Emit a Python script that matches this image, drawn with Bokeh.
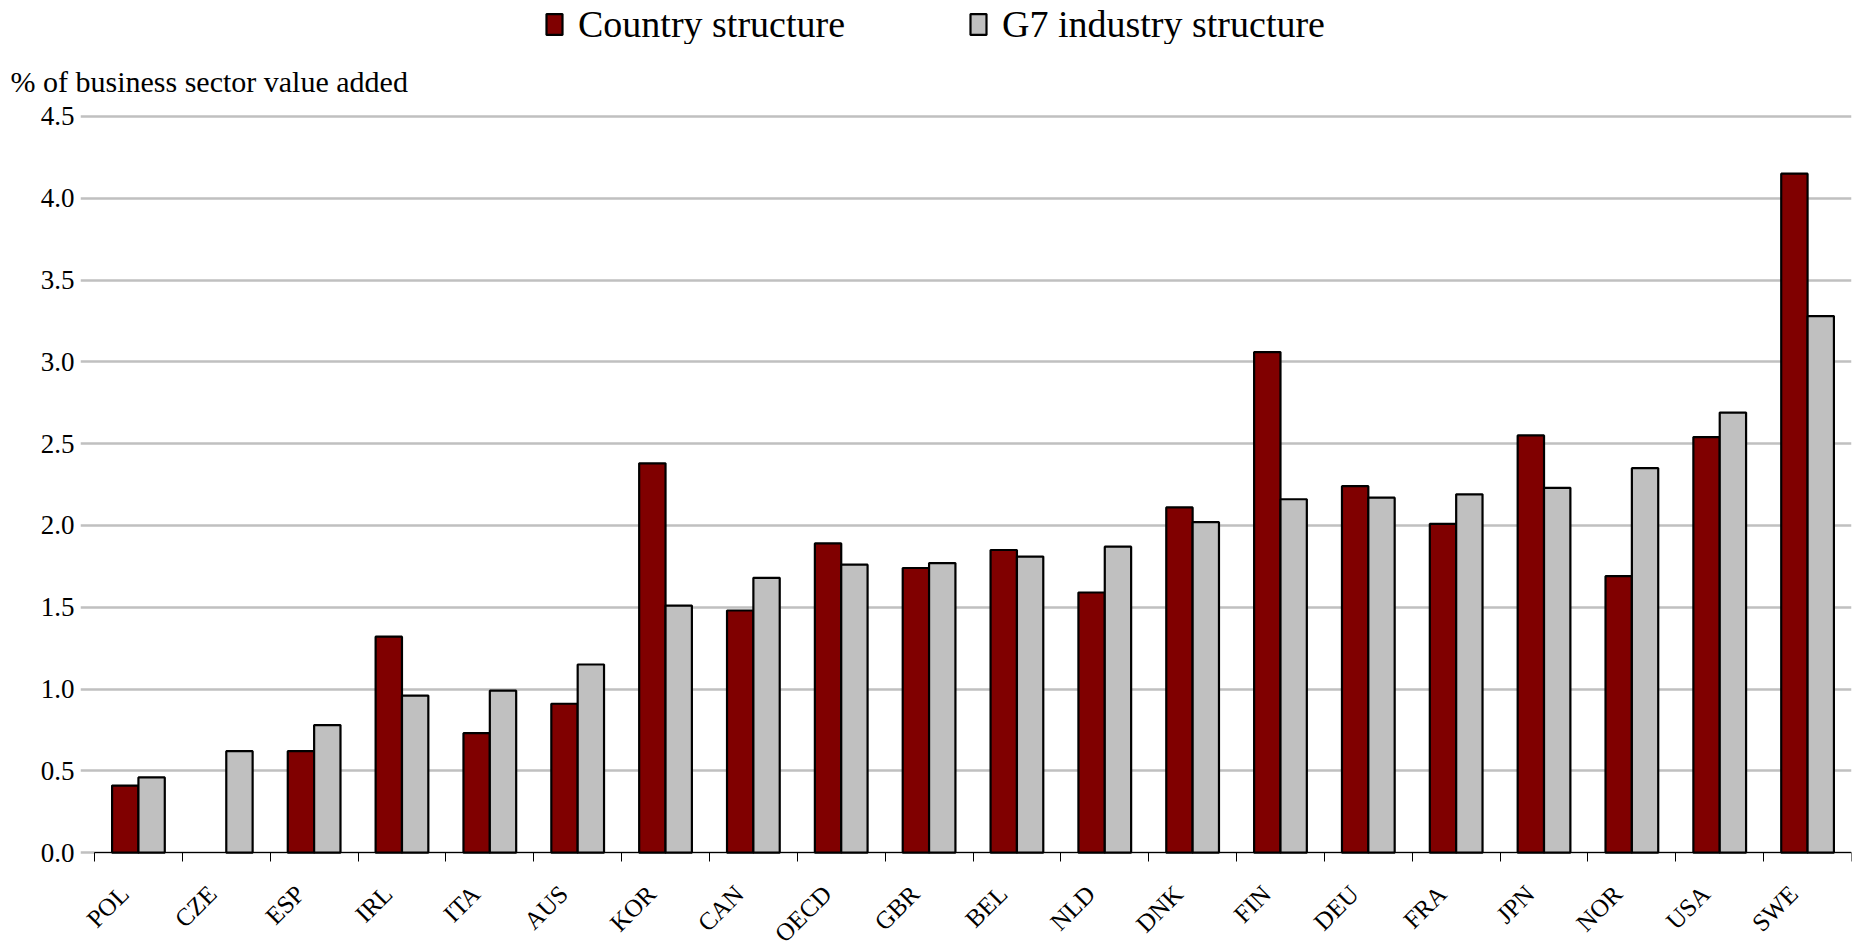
import numpy as np
from math import pi
from bokeh.plotting import figure
from bokeh.layouts import column
from bokeh.models import (ColumnDataSource, Range1d, FixedTicker, Legend, LegendItem,
                          Title, NumeralTickFormatter, LabelSet)
from bokeh.transform import dodge
from bokeh.embed import file_html
from bokeh.resources import INLINE

countries = ["POL", "CZE", "ESP", "IRL", "ITA", "AUS", "KOR", "CAN", "OECD", "GBR",
             "BEL", "NLD", "DNK", "FIN", "DEU", "FRA", "JPN", "NOR", "USA", "SWE"]
country_structure = [0.41, np.nan, 0.62, 1.32, 0.73, 0.91, 2.38, 1.48, 1.89, 1.74,
                     1.85, 1.59, 2.11, 3.06, 2.24, 2.01, 2.55, 1.69, 2.54, 4.15]
g7_structure = [0.46, 0.62, 0.78, 0.96, 0.99, 1.15, 1.51, 1.68, 1.76, 1.77,
                1.81, 1.87, 2.02, 2.16, 2.17, 2.19, 2.23, 2.35, 2.69, 3.28]
y_ticks = [0.0, 0.5, 1.0, 1.5, 2.0, 2.5, 3.0, 3.5, 4.0, 4.5]
series_names = ["Country structure", "G7 industry structure"]
y_label = "% of business sector value added"

RED = "#800000"
GREY = "#c0c0c0"
FONT = "Liberation Serif"
W = 1860
LEG_H = 44
MAIN_H = 904
FRAME_LEFT = 80

n = len(countries)
x = np.arange(n) + 0.5
src = ColumnDataSource(dict(x=x, c=np.array(country_structure, dtype=float),
                            g=np.array(g7_structure, dtype=float),
                            name=countries, zero=np.zeros(n)))

bar_style_c = dict(width=0.3, fill_color=RED, line_color="black", line_width=2.2)
bar_style_g = dict(width=0.3, fill_color=GREY, line_color="black", line_width=2.2)

# ---------------- legend strip ----------------
legend_src = ColumnDataSource(dict(x=[np.nan], top=[np.nan]))
lf = figure(width=W, height=LEG_H, output_backend="svg", toolbar_location=None,
            x_axis_type=None, y_axis_type=None, x_range=Range1d(0, 1),
            y_range=Range1d(0, 1), min_border=0)
lf.outline_line_color = None
lf.xgrid.visible = False
lf.ygrid.visible = False
d1 = lf.vbar(x="x", top="top", source=legend_src, **bar_style_c)
d2 = lf.vbar(x="x", top="top", source=legend_src, **bar_style_g)
legend = Legend(items=[LegendItem(label=series_names[0], renderers=[d1]),
                       LegendItem(label=series_names[1], renderers=[d2])],
                orientation="horizontal", location=(544 - FRAME_LEFT, -2),
                label_text_font=FONT, label_text_font_size="38px",
                label_text_color="black",
                glyph_width=20, glyph_height=26, label_standoff=14, spacing=123,
                border_line_color=None, background_fill_alpha=0,
                padding=0, margin=0)
lf.add_layout(legend, "center")

# ---------------- main chart ----------------
x_start = -0.1594  # small margin left of the first category so its label fits
p = figure(width=W, height=MAIN_H, output_backend="svg", toolbar_location=None,
           x_range=Range1d(x_start, n), y_range=Range1d(-0.586, 4.512),
           min_border_left=FRAME_LEFT, min_border_right=9, min_border_top=70,
           min_border_bottom=0)
p.outline_line_color = None
p.background_fill_color = "white"

r1 = p.vbar(x=dodge("x", -0.15), top="c", source=src, **bar_style_c)
r2 = p.vbar(x=dodge("x", 0.15), top="g", source=src, **bar_style_g)

# y axis
p.yaxis.ticker = FixedTicker(ticks=y_ticks)
p.yaxis.formatter = NumeralTickFormatter(format="0.0")
p.yaxis.axis_line_color = None
p.yaxis.major_tick_line_color = None
p.yaxis.major_tick_out = 0
p.yaxis.minor_tick_line_color = None
p.yaxis.major_label_text_font = FONT
p.yaxis.major_label_text_font_size = "27px"
p.yaxis.major_label_text_color = "black"
p.yaxis.major_label_standoff = 6

# x axis sits at zero; ticks at category boundaries
p.xaxis.fixed_location = 0
p.xaxis.bounds = (0, n)
p.xaxis.ticker = FixedTicker(ticks=[], minor_ticks=list(range(n + 1)))
p.xaxis.major_tick_line_color = None
p.xaxis.major_tick_out = 0
p.xaxis.major_tick_in = 0
p.xaxis.major_label_text_font_size = "0px"
p.xaxis.major_label_standoff = 0
p.xaxis.minor_tick_line_color = "black"
p.xaxis.minor_tick_line_width = 1
p.xaxis.minor_tick_in = 0
p.xaxis.minor_tick_out = 9
p.xaxis.axis_line_color = "black"
p.xaxis.axis_line_width = 1.2

labels = LabelSet(x="x", y="zero", text="name", source=src, angle=pi / 4,
                  x_offset=-14, y_offset=-37, text_align="right",
                  text_baseline="middle", text_font=FONT,
                  text_font_size="25px", text_color="black")
p.add_layout(labels)

p.xgrid.grid_line_color = None
p.ygrid.grid_line_color = GREY
p.ygrid.grid_line_width = 2.5

t = Title(text=y_label, align="left", text_font=FONT, text_font_size="30px",
          text_font_style="normal", text_color="black", offset=-70, standoff=34)
p.add_layout(t, "above")

layout = column(lf, p, spacing=0)
open("out.html", "w").write(file_html(layout, INLINE))
